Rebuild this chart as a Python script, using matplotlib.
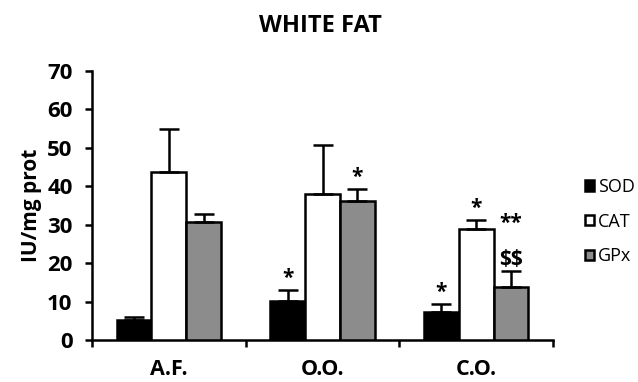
import numpy as np
import matplotlib
matplotlib.use('Agg')
import matplotlib.pyplot as plt
from matplotlib.patches import Patch

groups = ['A.F.', 'O.O.', 'C.O.']
series = ['SOD', 'CAT', 'GPx']
colors = ['#000000', '#ffffff', '#8c8c8c']

values = {
    'SOD': [5.2, 10.2, 7.3],
    'CAT': [43.6, 38.1, 28.8],
    'GPx': [30.8, 36.3, 13.9],
}
errors = {
    'SOD': [0.7, 2.7, 2.0],
    'CAT': [11.3, 12.6, 2.3],
    'GPx': [2.0, 2.9, 4.0],
}
# significance marks: (group index, series, text, extra offset in points)
marks = [
    (1, 'SOD', '*', 0),
    (1, 'GPx', '*', 0),
    (2, 'SOD', '*', 0),
    (2, 'CAT', '*', 0),
    (2, 'GPx', '$$', 0),
    (2, 'GPx', '**', 26),
]

plt.rcParams['font.family'] = ['Open Sans', 'DejaVu Sans']
plt.rcParams['text.parse_math'] = False

fig = plt.figure(figsize=(6.38, 3.82), dpi=100)
ax = fig.add_axes([0.1442, 0.110, 0.7226, 0.704])

x = np.arange(len(groups))
w = 0.226
for i, s in enumerate(series):
    pos = x + (i - 1) * w
    ax.bar(pos, values[s], w, color=colors[i], edgecolor='black', linewidth=1.8,
           yerr=[np.zeros(3), errors[s]], capsize=7,
           error_kw=dict(elinewidth=1.8, capthick=1.8, ecolor='black'), zorder=3)

for g, s, txt, extra in marks:
    i = series.index(s)
    top = values[s][g] + errors[s][g]
    ax.annotate(txt, (x[g] + (i - 1) * w, top), xytext=(0, 1 + extra),
                textcoords='offset points', ha='center', va='bottom',
                fontsize=15, fontweight='bold')

ax.set_xlim(-0.5, 2.5)
ax.set_ylim(0, 70)
ax.set_yticks(range(0, 71, 10))
ax.set_xticks(x)
ax.set_xticklabels(groups, fontsize=15.5, fontweight='bold')
ax.set_xticks([-0.5, 0.5, 1.5, 2.5], minor=True)
ax.tick_params(axis='x', which='major', length=0, pad=14)
ax.tick_params(axis='x', which='minor', length=5, width=1.8, direction='out')
ax.tick_params(axis='y', length=5, width=1.8, direction='out', labelsize=16, pad=9)
for lab in ax.get_yticklabels():
    lab.set_fontweight('bold')
for sp in ['top', 'right']:
    ax.spines[sp].set_visible(False)
for sp in ['left', 'bottom']:
    ax.spines[sp].set_linewidth(1.8)

ax.set_ylabel('IU/mg prot', fontsize=15, fontweight='bold', labelpad=4)
fig.text(0.503, 0.933, 'WHITE FAT', ha='center', va='center',
         fontsize=17, fontweight='bold')

handles = [Patch(facecolor=c, edgecolor='black', linewidth=1.8) for c in colors]
fig.legend(handles, series, loc='center left', bbox_to_anchor=(0.902, 0.42),
           frameon=False, fontsize=13, handlelength=0.5, handleheight=0.5,
           handletextpad=0.25, labelspacing=0.92, borderpad=0)

fig.savefig('out.png', dpi=100)
